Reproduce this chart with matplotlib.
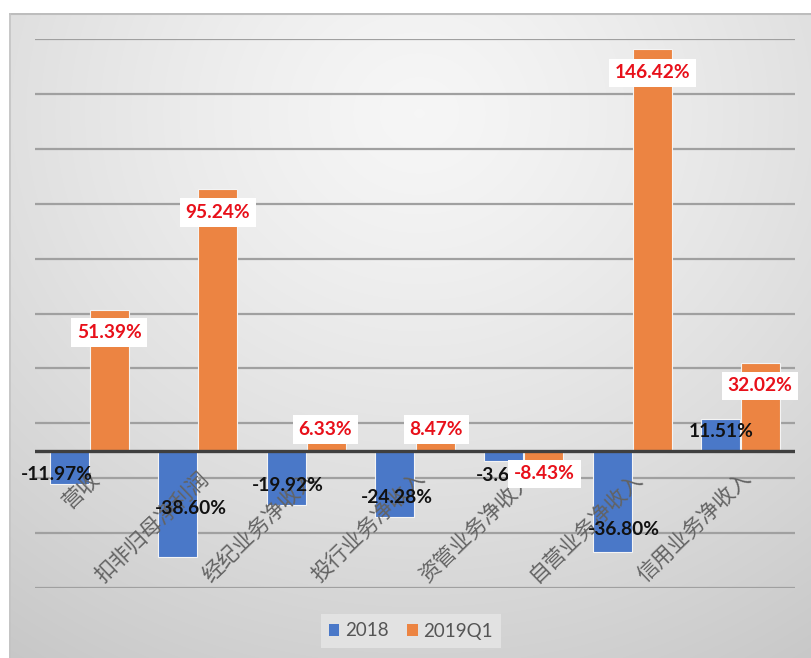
import matplotlib.pyplot as plt
import numpy as np

categories = ['营收', '扣非归母净利润', '经纪业务净收入', '投行业务净收入',
              '资管业务净收入', '自营业务净收入', '信用业务净收入']
growth_2018 = [-11.97, -38.60, -19.92, -24.28, -3.69, -36.80, 11.51]
growth_2019q1 = [51.39, 95.24, 6.33, 8.47, -8.43, 146.42, 32.02]

# label nudges in pixels (dx, dy-down) relative to each bar end
nudge_2018 = [(-12, -9), (13, -48), (1, -20), (2, -20), (3, 15), (12, -22), (1, 12)]
nudge_2019 = [(0, 23), (0, 23), (-1, -4), (1, 2), (1, 0), (0, 24), (-1, 23)]

BLUE = '#4a78c8'
ORANGE = '#ec8442'
W, H = 811, 658

fig = plt.figure(figsize=(W / 100, H / 100), dpi=100)
fig.patch.set_facecolor('white')

# grey panel with a soft radial gradient
px0, py0 = 9, 13
bg = fig.add_axes([px0 / W, 0, 1 - px0 / W, (H - py0) / H])
gw, gh = W - px0, H - py0
yy, xx = np.mgrid[0:gh, 0:gw]
d = np.hypot(xx - 410, (yy - 100) * 1.1) / 700
shade = 0.965 - 0.175 * np.clip(d, 0, 1.2) ** 1.3
bg.imshow(np.dstack([shade] * 3), aspect='auto', extent=(0, gw, gh, 0))
bg.plot([0, gw], [0.5, 0.5], color='#bdbdbd', lw=1.5)
bg.plot([0.5, 0.5], [0, gh], color='#c4c4c4', lw=1.2)
bg.set_xlim(0, gw)
bg.set_ylim(gh, 0)
bg.axis('off')

ax = fig.add_axes([35 / W, (H - 588) / H, (795 - 35) / W, (588 - 39) / H])
ax.set_facecolor('none')
ax.set_xlim(-0.5, len(categories) - 0.5)
ax.set_ylim(-50, 150)
for s in ax.spines.values():
    s.set_visible(False)
ax.set_xticks([])
ax.set_yticks([])

for g in np.arange(-50, 151, 20):
    ax.axhline(g, color='#a0a0a0', lw=1.6, zorder=1)
ax.axhline(0, color='#3f3f3f', lw=2.4, zorder=3)

x = np.arange(len(categories))
bw = 0.36
b1 = ax.bar(x - bw / 2 - 0.005, growth_2018, bw, color=BLUE, edgecolor='#f4f4f4',
            lw=0.8, zorder=2, label='2018')
b2 = ax.bar(x + bw / 2 + 0.005, growth_2019q1, bw, color=ORANGE, edgecolor='#f4f4f4',
            lw=0.8, zorder=2, label='2019Q1')

num_font = dict(family='Lato', weight='bold', size=13.8)
for rect, v, (dx, dy) in zip(b1, growth_2018, nudge_2018):
    ax.annotate(f'{v:.2f}%', (rect.get_x() + rect.get_width() / 2, v),
                xytext=(dx, -dy), textcoords='offset pixels',
                ha='center', va='center', color='#111111', zorder=6, **num_font)
for rect, v, (dx, dy) in zip(b2, growth_2019q1, nudge_2019):
    ax.annotate(f'{v:.2f}%', (rect.get_x() + rect.get_width() / 2, v),
                xytext=(dx, -dy), textcoords='offset pixels',
                ha='center', va='center', color='#e8101a', zorder=7,
                bbox=dict(boxstyle='square,pad=0.3', fc='white', ec='none'),
                **num_font)

# category names sit just below the zero line, tilted
for i, name in enumerate(categories):
    ax.text(i + 0.07, -9, name, rotation=44, rotation_mode='anchor',
            ha='right', va='center', fontsize=15.3, color='#636363',
            family=['Noto Sans CJK SC', 'DejaVu Sans'], weight='light', zorder=5)

leg = fig.legend(handles=[b1, b2], loc='center', bbox_to_anchor=(411 / W, 1 - 631 / H),
                 ncol=2, frameon=True, fancybox=False, handlelength=0.55,
                 handleheight=0.55, handletextpad=0.3, columnspacing=1.0,
                 prop=dict(family='Lato', size=13.5), labelcolor='#555555',
                 borderpad=0.45)
leg.get_frame().set_facecolor('#e2e2e2')
leg.get_frame().set_edgecolor('none')
leg.get_frame().set_alpha(1)
for h in leg.legend_handles:
    h.set_edgecolor('none')

fig.savefig('out.png', dpi=100)
